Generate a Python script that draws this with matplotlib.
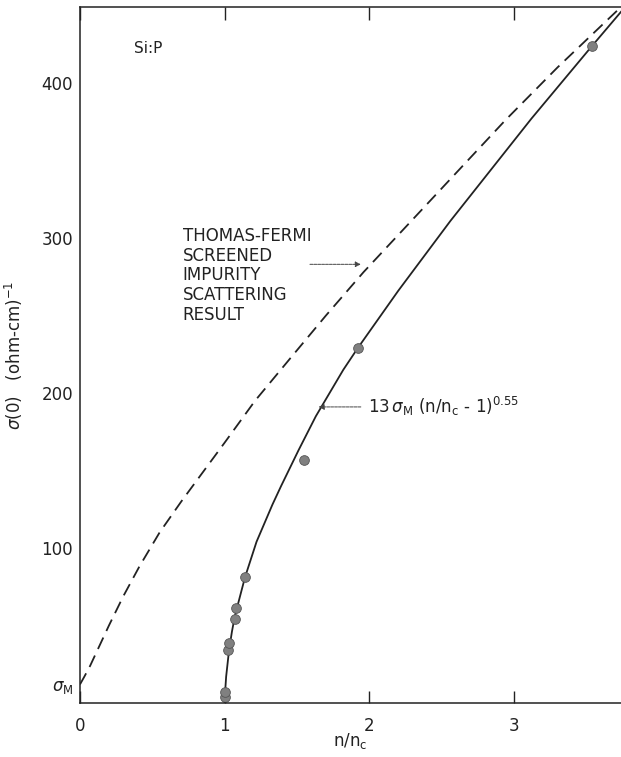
import numpy as np
import matplotlib
matplotlib.use('Agg')
import matplotlib.pyplot as plt

# measured points (n/nc, sigma)
pts_x = [1.00, 1.00, 1.02, 1.03, 1.07, 1.08, 1.14, 1.55, 1.92, 3.54]
pts_y = [4, 7, 34, 39, 54, 61, 81, 157, 229, 424]

# fitted curve 13 sigma_M (n/nc - 1)^0.55
fit_x = [1.00, 1.002, 1.005, 1.01, 1.03, 1.05, 1.07, 1.14, 1.22, 1.33, 1.39, 1.51,
         1.63, 1.82, 1.92, 2.20, 2.56, 3.12, 3.54, 3.74]
fit_y = [0, 6, 10, 17, 34, 46, 56, 81, 104, 128, 140, 163,
         185, 215, 229, 266, 311, 377, 424, 446]

# Thomas-Fermi screened impurity scattering result
tf_x = [0, 0.03, 0.07, 0.12, 0.2, 0.3, 0.41, 0.55, 0.7, 0.85, 1.0,
        1.21, 1.45, 1.7, 1.96, 2.27, 2.6, 2.94, 3.3, 3.75]
tf_y = [12, 17, 24, 34, 50, 69, 88, 110, 130, 149, 168,
        195, 222, 250, 278, 309, 342, 376, 410, 450]

sigma_m = 12
ytick_vals = [100, 200, 300, 400]
xtick_vals = [0, 1, 2, 3]

plt.rcParams['font.family'] = ['DejaVu Sans']
ink = '#222222'

fig = plt.figure(figsize=(6.21, 7.57), dpi=100)
ax = fig.add_axes([80/621, 1 - 703/757, 1 - 80/621, (703 - 7)/757])

ax.plot(fit_x, fit_y, color=ink, lw=1.3)
ax.plot(tf_x, tf_y, color=ink, lw=1.3, dashes=[7, 4])
ax.plot(pts_x, pts_y, 'o', color='#808080', mec='#555555', mew=0.6, ms=7)

ax.set_xlim(0, 3.739)
ax.set_ylim(0, 449)
ax.spines['right'].set_visible(False)
for s in ['left', 'top', 'bottom']:
    ax.spines[s].set_linewidth(1.1)
    ax.spines[s].set_color(ink)

ax.set_xticks(xtick_vals)
ax.set_yticks([sigma_m] + ytick_vals)
ax.set_yticklabels(['$\\sigma_{\\rm M}$'] + [str(v) for v in ytick_vals])
ax.tick_params(axis='x', direction='in', length=9, width=1.0, top=True,
               labelsize=12, colors=ink, pad=10)
ax.tick_params(axis='y', length=0, labelsize=12, colors=ink, pad=5)

ax.set_xlabel('n/n$_{\\rm c}$', fontsize=12, color=ink, labelpad=-3)
ax.set_ylabel('$\\sigma$(0)   (ohm-cm)$^{-1}$', fontsize=12, color=ink, labelpad=12)

ax.text(0.10, 0.94, 'Si:P', transform=ax.transAxes, fontsize=11, color=ink,
        va='center')

ax.annotate('', xy=(1.96, 283), xytext=(1.57, 283),
            arrowprops=dict(arrowstyle='-|>', lw=0.7, color='#444444',
                            linestyle=(0, (3, 1)), mutation_scale=8))
ax.text(0.71, 307, 'THOMAS-FERMI\nSCREENED\nIMPURITY\nSCATTERING\nRESULT',
        fontsize=12, color=ink, va='top', ha='left', linespacing=1.12)

ax.annotate('', xy=(1.63, 191), xytext=(1.96, 191),
            arrowprops=dict(arrowstyle='-|>', lw=0.7, color='#444444',
                            linestyle=(0, (3, 1)), mutation_scale=8))
ax.text(1.99, 191, '13$\\,\\sigma_{\\rm M}$ (n/n$_{\\rm c}$ - 1)$^{0.55}$',
        fontsize=12, color=ink, va='center', ha='left')

fig.savefig('out.png', dpi=100)
